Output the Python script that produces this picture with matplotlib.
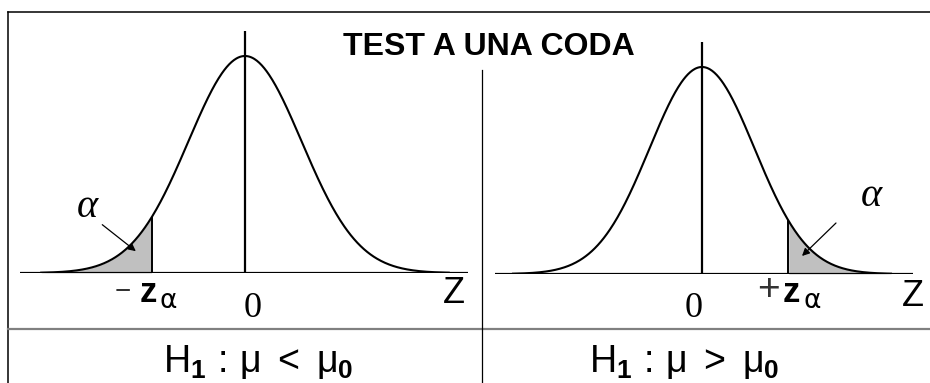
import numpy as np
import matplotlib.pyplot as plt

plt.rcParams["font.family"] = ["Liberation Sans", "DejaVu Sans"]
plt.rcParams["mathtext.fontset"] = "custom"
plt.rcParams["mathtext.rm"] = "Liberation Sans"
plt.rcParams["mathtext.it"] = "Liberation Sans"
plt.rcParams["mathtext.bf"] = "Liberation Sans:bold"

# one-tailed tests: lower tail (left) and upper tail (right)
TITLE = "TEST A UNA CODA"
Z_ALPHA = 1.645
TAIL_SIGN = [-1, 1]
SIGN_TEXT = ["\u2212", "+"]
H1_TEXT = [r"$\mathrm{H}_{\mathbf{1}}\,:\,\mu\ <\ \mu_{\mathbf{0}}$",
           r"$\mathrm{H}_{\mathbf{1}}\,:\,\mu\ >\ \mu_{\mathbf{0}}$"]
AXIS_NAME = "Z"
CENTER_TEXT = "0"
ALPHA_TEXT = "\u03b1"

W, H = 930, 383


def pdf(z):
    return np.exp(-z ** 2 / 2) / np.sqrt(2 * np.pi)


def px_rect(x0, y_top, x1, y_bot):
    return [x0 / W, 1 - y_bot / H, (x1 - x0) / W, (y_bot - y_top) / H]


fig = plt.figure(figsize=(W / 100, H / 100), dpi=100)

# frame and separators
bg = fig.add_axes([0, 0, 1, 1])
bg.set_xlim(0, W)
bg.set_ylim(H, 0)
bg.axis("off")
bg.plot([8, W], [12, 12], color="black", lw=1.1)
bg.plot([8, 8], [12, H], color="black", lw=1.1)
bg.plot([8, W], [329, 329], color="#808080", lw=1.6)
bg.plot([482, 482], [70, H], color="black", lw=0.9)

panel_rects = [px_rect(20, 31, 468, 273), px_rect(495, 42, 913, 274)]
panel_xlim = [(-3.975, 3.94), (-3.943, 4.019)]
panel_ytop = [0.4449, 0.4471]

alpha_xy = [(-2.79, 0.1195), (3.22, 0.1484)]
arrow_tail = [(-2.56, 0.092), (2.59, 0.102)]
arrow_head = [(-1.89, 0.037), (1.867, 0.031)]
sign_xy = [(-2.155, -0.048), (1.257, -0.051)]
sign_size = [20, 28]
zcrit_xy = [(-1.855, -0.053), (1.543, -0.054)]
zsub_xy = [(-1.519, -0.064), (1.924, -0.0655)]
zero_xy = [(0.141, -0.081), (-0.152, -0.083)]
name_xy = [(3.69, -0.055), (4.02, -0.062)]
h1_x = [258, 684]

z = np.linspace(-3.6, 3.6, 500)
for i, s in enumerate(TAIL_SIGN):
    ax = fig.add_axes(panel_rects[i])
    ax.set_xlim(*panel_xlim[i])
    ax.set_ylim(0, panel_ytop[i])
    ax.axis("off")

    crit = s * Z_ALPHA
    tail = z <= crit if s < 0 else z >= crit
    ax.fill_between(z[tail], 0, pdf(z[tail]), color="#c0c0c0", lw=0)
    ax.plot(z, pdf(z), color="black", lw=1.5)
    ax.axhline(0, color="black", lw=1.6)
    ax.vlines(0, 0, panel_ytop[i], color="black", lw=1.6)
    ax.vlines(crit, 0, pdf(crit), color="black", lw=1.4)

    ax.text(*alpha_xy[i], ALPHA_TEXT, family="Liberation Serif", style="italic",
            fontsize=29, ha="center", va="center")
    ax.annotate("", xy=arrow_head[i], xytext=arrow_tail[i],
                arrowprops=dict(arrowstyle="-|>", color="black", lw=0.9,
                                mutation_scale=11))

    ax.text(*sign_xy[i], SIGN_TEXT[i], fontsize=sign_size[i], ha="center",
            va="baseline", color="#333333", clip_on=False)
    ax.text(*zcrit_xy[i], "z", fontsize=25, fontweight="bold", ha="left",
            va="baseline", clip_on=False)
    ax.text(*zsub_xy[i], ALPHA_TEXT, family="DejaVu Sans", fontsize=19,
            ha="left", va="baseline", clip_on=False)
    ax.text(*zero_xy[i], CENTER_TEXT, family="Liberation Serif", fontsize=26,
            ha="center", va="baseline", clip_on=False)
    ax.text(*name_xy[i], AXIS_NAME, fontsize=26, ha="center", va="baseline",
            clip_on=False)

    fig.text(h1_x[i] / W, 1 - 372 / H, H1_TEXT[i], fontsize=27,
             ha="center", va="baseline")

fig.text(488.5 / W, 1 - 55 / H, TITLE, fontsize=23, fontweight="bold",
         ha="center", va="baseline")

fig.savefig("out.png", dpi=100)
